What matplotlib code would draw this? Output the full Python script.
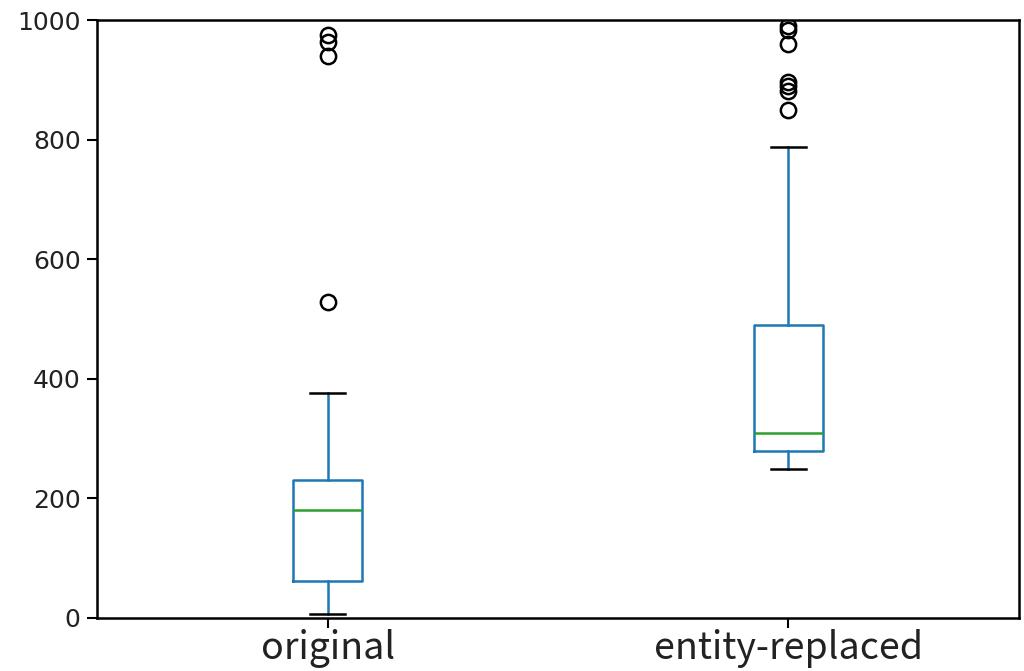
import matplotlib
matplotlib.use("Agg")
import matplotlib.pyplot as plt

# box statistics
labels = ["original", "entity-replaced"]
whislo = [7, 250]
q1 = [62, 280]
med = [181, 310]
q3 = [231, 490]
whishi = [377, 787]
fliers = [
    [529, 940, 963, 975],
    [850, 882, 890, 897, 960, 983, 990],
]

stats = []
for i in range(len(labels)):
    stats.append({
        "label": labels[i],
        "whislo": whislo[i],
        "q1": q1[i],
        "med": med[i],
        "q3": q3[i],
        "whishi": whishi[i],
        "fliers": fliers[i],
    })

fig = plt.figure(figsize=(10.24, 6.71), dpi=100)
ax = fig.add_axes([0.095, 0.079, 0.9, 0.891])

lw = 1.8
ax.bxp(
    stats,
    widths=0.15,
    boxprops=dict(color="#1f77b4", linewidth=lw),
    whiskerprops=dict(color="#1f77b4", linewidth=lw),
    capprops=dict(color="black", linewidth=lw),
    medianprops=dict(color="#2ca02c", linewidth=lw),
    flierprops=dict(marker="o", markerfacecolor="none", markeredgecolor="black",
                    markersize=11, markeredgewidth=1.8),
)

ax.set_xlim(0.5, 2.5)
ax.set_ylim(0, 1000)
ax.set_yticks([0, 200, 400, 600, 800, 1000])
ax.tick_params(axis="y", length=7, width=1.5, pad=5)
ax.tick_params(axis="x", length=7, width=1.5, pad=1)
for lab in ax.get_yticklabels():
    lab.set_fontfamily("DejaVu Sans")
    lab.set_fontsize(18)
    lab.set_color("#222222")
for lab in ax.get_xticklabels():
    lab.set_fontfamily(["Noto Sans CJK SC", "DejaVu Sans"])
    lab.set_fontsize(27)
    lab.set_fontweight("light")
    lab.set_color("#222222")
for sp in ax.spines.values():
    sp.set_linewidth(1.8)

fig.savefig("out.png", dpi=100)
